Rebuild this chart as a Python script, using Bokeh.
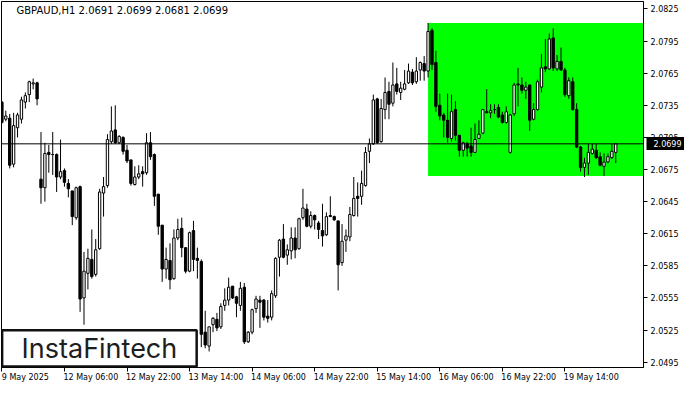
from bokeh.plotting import figure
from bokeh.models import (Range1d, LinearAxis, FixedTicker, PrintfTickFormatter,
                          Span, Label, BoxAnnotation, ColumnDataSource)
from bokeh.embed import file_html
from bokeh.resources import INLINE

# ---------------- data (GBPAUD, H1) ----------------
chart_title = "GBPAUD,H1  2.0691 2.0699 2.0681 2.0699"

opens = [2.0738, 2.0722, 2.0723, 2.0680, 2.0714, 2.0722, 2.0738, 2.0745, 2.0755, 2.0756,
         2.0666, 2.0658, 2.0691, 2.0689, 2.0689, 2.0668, 2.0674, 2.0662, 2.0655, 2.0630,
         2.0659, 2.0555, 2.0578, 2.0591, 2.0577, 2.0601, 2.0653, 2.0660, 2.0701, 2.0712,
         2.0700, 2.0705, 2.0693, 2.0684, 2.0661, 2.0668, 2.0673, 2.0672, 2.0700, 2.0689,
         2.0652, 2.0623, 2.0582, 2.0590, 2.0573, 2.0611, 2.0620, 2.0602, 2.0580, 2.0618,
         2.0592, 2.0589, 2.0523, 2.0510, 2.0530, 2.0535, 2.0528, 2.0548, 2.0553, 2.0566,
         2.0556, 2.0548, 2.0565, 2.0514, 2.0523, 2.0545, 2.0553, 2.0553, 2.0538, 2.0537,
         2.0557, 2.0593, 2.0610, 2.0595, 2.0599, 2.0611, 2.0601, 2.0630, 2.0638, 2.0622,
         2.0632, 2.0625, 2.0618, 2.0614, 2.0632, 2.0631, 2.0627, 2.0588, 2.0609, 2.0612,
         2.0632, 2.0650, 2.0650, 2.0660, 2.0692, 2.0699, 2.0741, 2.0701, 2.0731, 2.0748,
         2.0737, 2.0755, 2.0747, 2.0750, 2.0756, 2.0766, 2.0757, 2.0768, 2.0774, 2.0767,
         2.0805, 2.0775, 2.0735, 2.0726, 2.0721, 2.0704, 2.0731, 2.0707, 2.0693, 2.0699,
         2.0697, 2.0691, 2.0704, 2.0709, 2.0729, 2.0728, 2.0731, 2.0733, 2.0726, 2.0719,
         2.0691, 2.0727, 2.0755, 2.0754, 2.0749, 2.0754, 2.0722, 2.0731, 2.0752, 2.0771,
         2.0769, 2.0798, 2.0769, 2.0776, 2.0768, 2.0744, 2.0757, 2.0731, 2.0696, 2.0677,
         2.0681, 2.0690, 2.0693, 2.0687, 2.0678, 2.0682, 2.0686, 2.0691]
highs = [2.0739, 2.0730, 2.0727, 2.0728, 2.0728, 2.0743, 2.0747, 2.0758, 2.0760, 2.0757,
         2.0710, 2.0700, 2.0698, 2.0710, 2.0690, 2.0703, 2.0676, 2.0666, 2.0655, 2.0659,
         2.0660, 2.0598, 2.0601, 2.0619, 2.0610, 2.0657, 2.0668, 2.0708, 2.0734, 2.0735,
         2.0707, 2.0706, 2.0698, 2.0684, 2.0678, 2.0679, 2.0678, 2.0709, 2.0710, 2.0690,
         2.0652, 2.0623, 2.0602, 2.0606, 2.0619, 2.0629, 2.0630, 2.0602, 2.0617, 2.0627,
         2.0602, 2.0591, 2.0543, 2.0528, 2.0537, 2.0541, 2.0550, 2.0564, 2.0574, 2.0566,
         2.0557, 2.0570, 2.0569, 2.0524, 2.0545, 2.0557, 2.0557, 2.0554, 2.0553, 2.0562,
         2.0593, 2.0610, 2.0624, 2.0605, 2.0621, 2.0621, 2.0630, 2.0657, 2.0643, 2.0636,
         2.0633, 2.0627, 2.0643, 2.0635, 2.0650, 2.0632, 2.0627, 2.0624, 2.0619, 2.0640,
         2.0668, 2.0663, 2.0674, 2.0696, 2.0704, 2.0745, 2.0742, 2.0741, 2.0761, 2.0757,
         2.0775, 2.0770, 2.0757, 2.0768, 2.0774, 2.0769, 2.0780, 2.0776, 2.0781, 2.0812,
         2.0807, 2.0786, 2.0746, 2.0728, 2.0746, 2.0745, 2.0739, 2.0707, 2.0701, 2.0701,
         2.0714, 2.0718, 2.0721, 2.0731, 2.0750, 2.0736, 2.0736, 2.0736, 2.0729, 2.0734,
         2.0727, 2.0756, 2.0770, 2.0761, 2.0757, 2.0754, 2.0737, 2.0759, 2.0783, 2.0797,
         2.0802, 2.0807, 2.0782, 2.0789, 2.0770, 2.0761, 2.0761, 2.0737, 2.0697, 2.0686,
         2.0699, 2.0699, 2.0699, 2.0691, 2.0690, 2.0690, 2.0699, 2.0699]
lows = [2.0718, 2.0720, 2.0676, 2.0677, 2.0705, 2.0718, 2.0732, 2.0738, 2.0750, 2.0735,
        2.0643, 2.0645, 2.0672, 2.0670, 2.0654, 2.0666, 2.0659, 2.0649, 2.0623, 2.0628,
        2.0542, 2.0530, 2.0563, 2.0573, 2.0575, 2.0600, 2.0631, 2.0658, 2.0699, 2.0699,
        2.0699, 2.0689, 2.0681, 2.0660, 2.0660, 2.0666, 2.0659, 2.0670, 2.0684, 2.0641,
        2.0614, 2.0570, 2.0573, 2.0563, 2.0572, 2.0609, 2.0593, 2.0578, 2.0579, 2.0580,
        2.0573, 2.0509, 2.0508, 2.0505, 2.0523, 2.0524, 2.0526, 2.0543, 2.0548, 2.0554,
        2.0537, 2.0543, 2.0512, 2.0513, 2.0521, 2.0541, 2.0527, 2.0534, 2.0532, 2.0534,
        2.0555, 2.0575, 2.0592, 2.0586, 2.0591, 2.0592, 2.0600, 2.0628, 2.0621, 2.0620,
        2.0619, 2.0610, 2.0603, 2.0613, 2.0631, 2.0627, 2.0562, 2.0585, 2.0598, 2.0608,
        2.0631, 2.0631, 2.0642, 2.0659, 2.0681, 2.0698, 2.0699, 2.0700, 2.0722, 2.0722,
        2.0734, 2.0745, 2.0740, 2.0749, 2.0755, 2.0754, 2.0755, 2.0758, 2.0758, 2.0761,
        2.0768, 2.0729, 2.0721, 2.0705, 2.0700, 2.0701, 2.0702, 2.0687, 2.0687, 2.0687,
        2.0687, 2.0691, 2.0704, 2.0708, 2.0728, 2.0723, 2.0727, 2.0723, 2.0718, 2.0718,
        2.0690, 2.0725, 2.0734, 2.0746, 2.0741, 2.0711, 2.0721, 2.0730, 2.0747, 2.0766,
        2.0768, 2.0767, 2.0767, 2.0767, 2.0743, 2.0741, 2.0730, 2.0695, 2.0673, 2.0668,
        2.0670, 2.0689, 2.0685, 2.0678, 2.0669, 2.0681, 2.0685, 2.0681]
closes = [2.0719, 2.0725, 2.0679, 2.0716, 2.0726, 2.0740, 2.0744, 2.0757, 2.0756, 2.0741,
          2.0658, 2.0690, 2.0689, 2.0689, 2.0668, 2.0673, 2.0663, 2.0657, 2.0631, 2.0658,
          2.0554, 2.0580, 2.0592, 2.0575, 2.0600, 2.0654, 2.0659, 2.0703, 2.0711, 2.0700,
          2.0706, 2.0692, 2.0683, 2.0662, 2.0668, 2.0671, 2.0671, 2.0700, 2.0687, 2.0650,
          2.0622, 2.0582, 2.0591, 2.0572, 2.0611, 2.0619, 2.0602, 2.0580, 2.0616, 2.0591,
          2.0590, 2.0521, 2.0511, 2.0528, 2.0536, 2.0527, 2.0547, 2.0553, 2.0565, 2.0555,
          2.0550, 2.0564, 2.0514, 2.0523, 2.0544, 2.0554, 2.0551, 2.0537, 2.0536, 2.0559,
          2.0592, 2.0609, 2.0593, 2.0600, 2.0611, 2.0600, 2.0629, 2.0639, 2.0622, 2.0632,
          2.0628, 2.0619, 2.0613, 2.0631, 2.0631, 2.0628, 2.0586, 2.0608, 2.0613, 2.0633,
          2.0648, 2.0648, 2.0662, 2.0691, 2.0699, 2.0740, 2.0700, 2.0732, 2.0747, 2.0736,
          2.0754, 2.0748, 2.0751, 2.0755, 2.0767, 2.0756, 2.0767, 2.0775, 2.0767, 2.0804,
          2.0773, 2.0734, 2.0725, 2.0721, 2.0705, 2.0729, 2.0707, 2.0693, 2.0700, 2.0695,
          2.0691, 2.0703, 2.0708, 2.0731, 2.0728, 2.0730, 2.0731, 2.0724, 2.0719, 2.0729,
          2.0726, 2.0754, 2.0754, 2.0749, 2.0752, 2.0721, 2.0731, 2.0757, 2.0770, 2.0769,
          2.0797, 2.0770, 2.0776, 2.0768, 2.0745, 2.0758, 2.0731, 2.0696, 2.0677, 2.0681,
          2.0691, 2.0694, 2.0686, 2.0679, 2.0682, 2.0687, 2.0692, 2.0699]

x_tick_bars = [0, 16, 32, 48, 64, 80, 96, 112, 128, 144]
x_tick_labels = ["9 May 2025", "12 May 06:00", "12 May 22:00", "13 May 14:00",
                 "14 May 06:00", "14 May 22:00", "15 May 14:00", "16 May 06:00",
                 "16 May 22:00", "19 May 14:00"]
y_ticks = [2.0495, 2.0525, 2.0555, 2.0585, 2.0615, 2.0645,
           2.0675, 2.0705, 2.0735, 2.0765, 2.0795, 2.0825]
last_price = 2.0699
zone_start_bar = 109
zone_top = 2.0812
zone_bottom = 2.0669
logo_text = "InstaFintech"

# ---------------- figure ----------------
X0, X1 = -0.1, 164.1
Y0, Y1 = 2.0490, 2.0832
W, H = 684, 384
FONT = "DejaVu Sans"

p = figure(width=W, height=H, x_range=Range1d(X0, X1), y_range=Range1d(Y0, Y1),
           output_backend="svg", toolbar_location=None, y_axis_location="right",
           min_border_left=1, min_border_top=1, min_border_right=0, min_border_bottom=0)
p.background_fill_color = "white"
p.border_fill_color = "white"
p.outline_line_color = "black"
p.outline_line_width = 1
p.xgrid.visible = False
p.ygrid.visible = False

# green pattern zone
p.quad(left=[zone_start_bar], right=[X1], top=[zone_top], bottom=[zone_bottom],
       fill_color="#00ff00", line_color=None)

# candles
n = len(opens)
bars = list(range(n))
src = ColumnDataSource(dict(
    x=bars, o=opens, h=highs, l=lows, c=closes,
    top=[max(a, b) for a, b in zip(opens, closes)],
    bot=[min(a, b) for a, b in zip(opens, closes)],
    fill=["white" if c >= o else "black" for o, c in zip(opens, closes)],
))
p.segment(x0="x", y0="h", x1="x", y1="l", source=src, line_color="black", line_width=1)
p.vbar(x="x", width=0.6, top="top", bottom="bot", source=src,
       fill_color="fill", line_color="black", line_width=1)

# last price line
p.add_layout(Span(location=last_price, dimension="width", line_color="black", line_width=1))

# right price axis
ya = p.yaxis[0]
ya.ticker = FixedTicker(ticks=y_ticks)
ya.formatter = PrintfTickFormatter(format="%.4f")
ya.major_tick_out = 4
ya.major_tick_in = 0
ya.minor_tick_out = 0
ya.minor_tick_in = 0
ya.axis_line_color = "black"
ya.major_tick_line_color = "black"
ya.major_label_standoff = 3
ya.major_label_text_font = FONT
ya.major_label_text_font_size = "8px"
ya.major_label_text_color = "black"

# current price tag: an extra right axis whose single thick tick forms the black box
tag = LinearAxis(ticker=FixedTicker(ticks=[last_price]),
                 formatter=PrintfTickFormatter(format="%.4f"))
tag.axis_line_color = None
tag.minor_tick_line_color = None
tag.minor_tick_out = 0
tag.minor_tick_in = 0
tag.major_tick_out = 4
tag.major_tick_in = 35
tag.major_tick_line_color = "black"
tag.major_tick_line_width = 13
tag.major_label_standoff = -32
tag.major_label_text_font = FONT
tag.major_label_text_font_size = "8px"
tag.major_label_text_color = "white"
p.add_layout(tag, "right")

# bottom axis: tick marks only
xa = p.xaxis[0]
xa.ticker = FixedTicker(ticks=x_tick_bars)
xa.major_tick_out = 4
xa.major_tick_in = 0
xa.minor_tick_out = 0
xa.minor_tick_in = 0
xa.axis_line_color = "black"
xa.major_tick_line_color = "black"
xa.major_label_standoff = 0
xa.major_label_text_font_size = "0px"
xa.major_label_overrides = {t: "" for t in x_tick_bars}

# second bottom axis carrying left-aligned date labels
EMW = {"0": 0.60, "1": 0.60, "2": 0.60, "3": 0.60, "4": 0.60, "5": 0.60,
       "6": 0.60, "7": 0.60, "8": 0.60, "9": 0.60, " ": 0.30, ":": 0.32,
       "M": 0.82, "a": 0.58, "y": 0.56}
fs = 8.0
frame_w = W - 1 - 39
px_per_unit = frame_w / ((X1 - X0) * 4)
lab_ticks = []
lab_over = {}
for b, lab in zip(x_tick_bars, x_tick_labels):
    w = sum(EMW.get(ch, 0.6) for ch in lab) * fs
    pos = int(round(4 * b + (1 + w / 2) / px_per_unit))
    lab_ticks.append(pos)
    lab_over[pos] = lab
p.extra_x_ranges = {"lab": Range1d(X0 * 4, X1 * 4)}
la = LinearAxis(x_range_name="lab", ticker=FixedTicker(ticks=lab_ticks),
                major_label_overrides=lab_over)
la.axis_line_color = None
la.major_tick_line_color = None
la.minor_tick_line_color = None
la.major_tick_out = 0
la.major_tick_in = 0
la.minor_tick_out = 0
la.minor_tick_in = 0
la.major_label_standoff = 1
la.major_label_text_font = FONT
la.major_label_text_font_size = "8px"
la.major_label_text_color = "black"
p.add_layout(la, "below")

# title text inside the chart
p.add_layout(Label(x=X0, y=Y1, x_offset=15, y_offset=-3, text=chart_title,
                   text_font=FONT, text_font_size="10px", text_color="black",
                   text_baseline="top", text_align="left"))

# logo box bottom-left
bl = X0 + (X1 - X0) * 0.001
br = X0 + (X1 - X0) * 0.304
bb = Y0 + (Y1 - Y0) * 0.003
bt = Y0 + (Y1 - Y0) * 0.1015
p.add_layout(BoxAnnotation(left=bl, right=br, bottom=bb, top=bt,
                           fill_color="white", fill_alpha=1.0,
                           line_color="#111111", line_width=2.5, line_alpha=1.0))
p.add_layout(Label(x=(bl + br) / 2, y=(bb + bt) / 2, text=logo_text,
                   text_font="Inter", text_font_size="27px", text_color="#1e1e1e",
                   text_align="center", text_baseline="middle"))

open("out.html", "w").write(file_html(p, INLINE))
